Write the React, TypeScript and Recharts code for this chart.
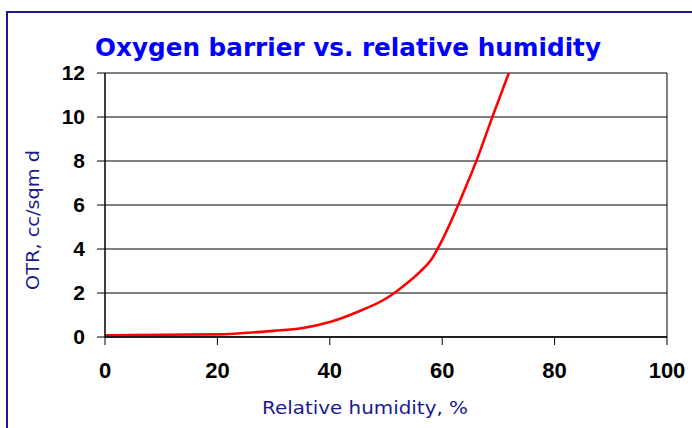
import { CartesianGrid, Line, LineChart, ReferenceLine, XAxis, YAxis } from "recharts"

// relative humidity (%) and oxygen transmission rate (cc/sqm d)
const humidity = [0, 10, 20, 30, 35, 40, 45, 50, 53, 56, 58, 60, 62, 64, 66, 69, 72]
const otr = [0.08, 0.1, 0.12, 0.28, 0.4, 0.68, 1.15, 1.75, 2.3, 2.95, 3.5, 4.4, 5.5, 6.7, 7.95, 10.05, 12.1]

const xTicks = [0, 20, 40, 60, 80, 100]
const yTicks = [0, 2, 4, 6, 8, 10, 12]

const title = "Oxygen barrier vs. relative humidity"
const xLabel = "Relative humidity, %"
const yLabel = "OTR, cc/sqm d"

const data = humidity.map((h, i) => ({ rh: h, otr: otr[i] }))

const comic = "'Comic Sans MS', 'DejaVu Sans', sans-serif"
const tickFont = { fontFamily: "'Liberation Sans', Arial, sans-serif", fontWeight: 700, fill: "#000" }

export default function App() {
  return (
    <div style={{ position: "absolute", left: 0, top: 0, width: 692, height: 428, background: "#fff" }}>
      <LineChart
        width={692}
        height={428}
        data={data}
        margin={{ top: 73, right: 25, left: 45, bottom: 41 }}
        style={{ position: "absolute", left: 0, top: 0 }}
      >
        <CartesianGrid horizontal vertical={false} stroke="#000" strokeWidth={1} />
        <XAxis
          dataKey="rh"
          type="number"
          domain={[0, 100]}
          ticks={xTicks}
          height={50}
          tickSize={8}
          tickMargin={17}
          stroke="#000"
          tickLine={{ stroke: "#000" }}
          axisLine={{ stroke: "#000", strokeWidth: 1.5 }}
          tick={{ ...tickFont, fontSize: 22 }}
        />
        <YAxis
          type="number"
          domain={[0, 12]}
          ticks={yTicks}
          allowDataOverflow
          width={60}
          tickSize={8}
          tickMargin={12}
          stroke="#000"
          tickLine={{ stroke: "#000" }}
          axisLine={{ stroke: "#000", strokeWidth: 1.5 }}
          tick={{ ...tickFont, fontSize: 21 }}
        />
        <ReferenceLine x={100} stroke="#000" strokeWidth={1} />
        <Line
          type="monotone"
          dataKey="otr"
          stroke="#ff0000"
          strokeWidth={2.6}
          dot={false}
          isAnimationActive={false}
        />
      </LineChart>
      <div
        style={{
          position: "absolute",
          left: 6,
          top: 11,
          width: 686,
          height: 417,
          borderTop: "2px solid #1a1a8c",
          borderLeft: "2px solid #1a1a8c",
          boxSizing: "border-box",
          pointerEvents: "none",
        }}
      />
      <svg width={692} height={428} style={{ position: "absolute", left: 0, top: 0, pointerEvents: "none" }}>
        <text
          x={95}
          y={56}
          textLength={506}
          lengthAdjust="spacingAndGlyphs"
          fontFamily={comic}
          fontWeight={700}
          fontSize={25}
          fill="#0000ff"
        >
          {title}
        </text>
        <text
          x={262}
          y={414}
          textLength={206}
          lengthAdjust="spacingAndGlyphs"
          fontFamily={comic}
          fontSize={17}
          fill="#1a1a8c"
        >
          {xLabel}
        </text>
        <text
          x={0}
          y={0}
          transform="translate(39, 290) rotate(-90)"
          textLength={140}
          lengthAdjust="spacingAndGlyphs"
          fontFamily={comic}
          fontSize={17}
          fill="#1a1a8c"
        >
          {yLabel}
        </text>
      </svg>
    </div>
  )
}
